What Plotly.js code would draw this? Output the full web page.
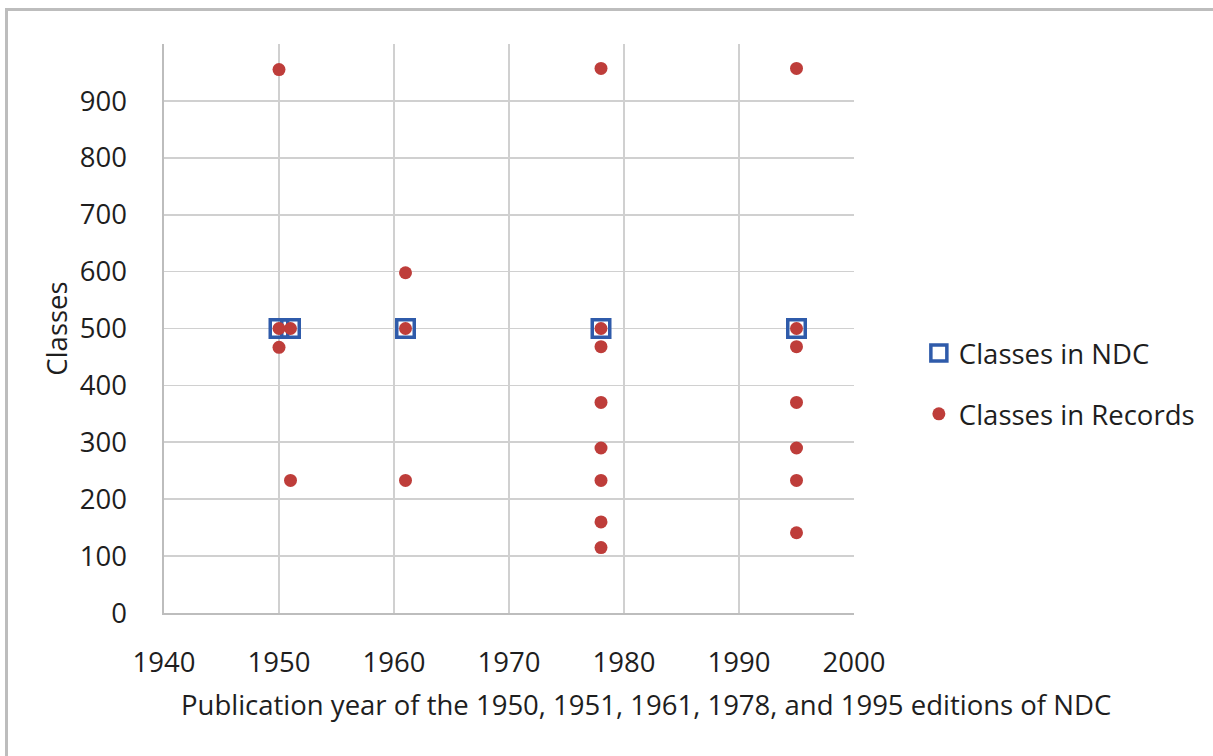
<!DOCTYPE html>
<html>
<head>
<meta charset="utf-8">
<script src="https://cdn.plot.ly/plotly-3.0.1.min.js"></script>
<style>
html, body { margin: 0; padding: 0; background: #ffffff; overflow: hidden; }
#chart { width: 1213px; height: 756px; position: absolute; left: 0; top: 0; }
#frame { position: absolute; left: 5px; top: 8px; width: 1300px; height: 800px;
         border-left: 3px solid #BDBDBD; border-top: 3px solid #BDBDBD; pointer-events: none; }
</style>
</head>
<body>
<div id="chart"></div>
<div id="frame"></div>
<script>
// NDC editions and their number of classes
const ndcYears = [1950, 1951, 1961, 1978, 1995];
const ndcClasses = [500, 500, 500, 500, 500];

// Classes observed in records
const recYears = [1950, 1950, 1950,
                  1951, 1951,
                  1961, 1961, 1961,
                  1978, 1978, 1978, 1978, 1978, 1978, 1978, 1978,
                  1995, 1995, 1995, 1995, 1995, 1995, 1995];
const recClasses = [955, 500, 467,
                    500, 233,
                    598, 500, 233,
                    957, 500, 468, 370, 290, 233, 160, 115,
                    957, 500, 468, 370, 290, 233, 141];

const xTicks = [1940, 1950, 1960, 1970, 1980, 1990, 2000];
const yTicks = [0, 100, 200, 300, 400, 500, 600, 700, 800, 900];

const seriesNames = ['Classes in NDC', 'Classes in Records'];
const xTitle = 'Publication year of the 1950, 1951, 1961, 1978, and 1995 editions of NDC';
const yTitle = 'Classes';

const FONT = '"Open Sans", "Noto Sans", sans-serif';
const TXT = '#1e1e1e';
const FS = 27.5;

const traces = [
  {
    x: ndcYears, y: ndcClasses, name: seriesNames[0], type: 'scatter', mode: 'markers',
    legendgroup: 'a',
    marker: { symbol: 'square-open', size: 17.5, color: '#2F5BAA', line: { width: 3.5, color: '#2F5BAA' } },
    cliponaxis: false
  },
  {
    x: recYears, y: recClasses, name: seriesNames[1], type: 'scatter', mode: 'markers',
    legendgroup: 'b',
    marker: { symbol: 'circle', size: 13, color: '#BE3D3A' },
    cliponaxis: false
  }
];

const layout = {
  width: 1213, height: 756,
  margin: { l: 164, r: 359, t: 44, b: 143 },
  paper_bgcolor: '#ffffff', plot_bgcolor: '#ffffff',
  font: { family: FONT, size: FS, color: TXT },
  showlegend: true,
  legend: {
    x: 1.094, xanchor: 'left', y: 0.403, yanchor: 'middle',
    font: { family: FONT, size: FS, color: TXT },
    tracegroupgap: 22, traceorder: 'grouped',
    bgcolor: 'rgba(0,0,0,0)', itemwidth: 30
  },
  xaxis: {
    range: [1940, 2000], tickvals: xTicks, ticktext: xTicks.map(String),
    showgrid: true, gridcolor: '#D0D0D0', gridwidth: 1.6,
    showline: true, linecolor: '#BDBDBD', linewidth: 1.6,
    zeroline: false, ticks: '', ticklabelstandoff: 24,
    tickfont: { family: FONT, size: FS, color: TXT }
  },
  yaxis: {
    range: [0, 1000], tickvals: yTicks, ticktext: yTicks.map(String),
    showgrid: true, gridcolor: '#D0D0D0', gridwidth: 1.6,
    showline: true, linecolor: '#BDBDBD', linewidth: 1.6,
    zeroline: false, ticks: '', ticklabelstandoff: 30,
    tickfont: { family: FONT, size: FS, color: TXT },
    title: { text: yTitle, font: { family: FONT, size: FS, color: TXT }, standoff: 4 }
  },
  annotations: [
    {
      text: xTitle, xref: 'paper', yref: 'paper',
      x: (646 - 164) / 690, y: -0.16, xanchor: 'center', yanchor: 'middle',
      showarrow: false, font: { family: FONT, size: FS, color: TXT }
    }
  ]
};

Plotly.newPlot('chart', traces, layout, { displayModeBar: false, staticPlot: true });
</script>
</body>
</html>
